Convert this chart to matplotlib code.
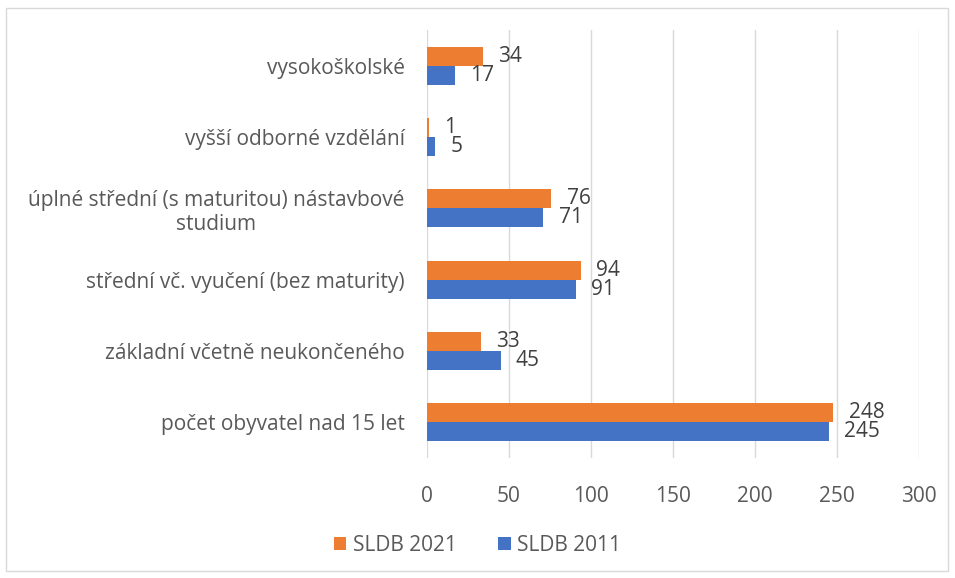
import matplotlib.pyplot as plt
import numpy as np
from matplotlib.patches import Rectangle

plt.rcParams['font.family'] = ['Open Sans', 'DejaVu Sans']

# categories bottom -> top
categories = ['počet obyvatel nad 15 let',
              'základní včetně neukončeného',
              'střední vč. vyučení (bez maturity)',
              'úplné střední (s maturitou) nástavbové\nstudium',
              'vyšší odborné vzdělání',
              'vysokoškolské']
sldb_2021 = [248, 33, 94, 76, 1, 34]
sldb_2011 = [245, 45, 91, 71, 5, 17]

orange = '#ED7D31'
blue = '#4472C4'
txt = '#595959'
fs = 15

fig = plt.figure(figsize=(9.55, 5.78), dpi=100)
ax = fig.add_axes([0.447, 0.2076, 0.515, 0.7404])

y = np.arange(len(categories))
h = 0.265
b21 = ax.barh(y + h / 2, sldb_2021, height=h, color=orange, label='SLDB 2021', zorder=3)
b11 = ax.barh(y - h / 2, sldb_2011, height=h, color=blue, label='SLDB 2011', zorder=3)

for bars in (b21, b11):
    for r in bars:
        ax.annotate(f'{int(r.get_width())}', (r.get_width(), r.get_y() + r.get_height() / 2),
                    xytext=(11, 0), textcoords='offset points', va='center', ha='left',
                    fontsize=fs, color='#404040', zorder=4)

ax.set_xlim(0, 300)
ax.set_ylim(-0.5, len(categories) - 0.5)
ax.set_xticks(range(0, 301, 50))
ax.set_yticks(y)
ax.set_yticklabels(categories, multialignment='center')
ax.tick_params(length=0, labelsize=fs, colors=txt)
ax.tick_params(axis='y', pad=16)
ax.tick_params(axis='x', pad=20)
ax.grid(axis='x', color='#D9D9D9', linewidth=1, zorder=0)
for s in ax.spines.values():
    s.set_visible(False)

fig.legend(handles=[b21, b11], loc='center', bbox_to_anchor=(0.5, 0.057), ncol=2,
           frameon=False, fontsize=fs, labelcolor=txt, handlelength=0.6, handleheight=0.6,
           columnspacing=2.0, handletextpad=0.3)

fig.patches.append(Rectangle((0.006, 0.012), 0.987, 0.975, transform=fig.transFigure,
                             fill=False, edgecolor='#D9D9D9', linewidth=1))

fig.savefig('out.png', dpi=100)
